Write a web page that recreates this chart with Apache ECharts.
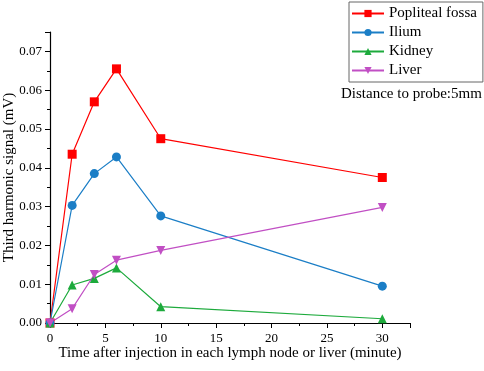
<!DOCTYPE html>
<html>
<head>
<meta charset="utf-8">
<script src="https://cdn.jsdelivr.net/npm/echarts@6/dist/echarts.min.js"></script>
<style>
  html, body { margin: 0; padding: 0; background: #fff; }
  #chart { width: 484px; height: 371px; }
</style>
</head>
<body>
<div id="chart"></div>
<script>
const times = [0, 2, 4, 6, 10, 30];
const popliteal = [0, 0.0435, 0.057, 0.0655, 0.0475, 0.0375];
const ilium = [0, 0.0303, 0.0385, 0.0428, 0.0276, 0.0095];
const kidney = [0, 0.0098, 0.0115, 0.0142, 0.0042, 0.0011];
const liver = [0, 0.0037, 0.0125, 0.0162, 0.0187, 0.0298];

const font = "Liberation Serif";

function pairs(values) {
  return times.map((t, i) => [t, values[i]]);
}

function makeSeries(name, values, color, symbol, rotate) {
  return {
    name: name,
    type: "line",
    data: pairs(values),
    symbol: symbol,
    symbolSize: 9,
    symbolRotate: rotate || 0,
    lineStyle: { color: color, width: 1.2 },
    itemStyle: { color: color },
  };
}

const chart = echarts.init(document.getElementById("chart"));
chart.setOption({
  animation: false,
  textStyle: { fontFamily: font },
  grid: { left: 50, right: 74, top: 32, bottom: 48, containLabel: false, outerBoundsMode: "none" },
  legend: {
    orient: "vertical",
    left: 349,
    top: 2,
    padding: [4, 6, 4, 2],
    itemGap: 4,
    itemWidth: 32,
    itemHeight: 9,
    borderColor: "#666",
    borderWidth: 1,
    textStyle: { fontFamily: font, fontSize: 15, color: "#000" },
    data: ["Popliteal fossa", "Ilium", "Kidney", "Liver"],
  },
  graphic: [
    {
      type: "text",
      left: 341,
      top: 87,
      style: { text: "Distance to probe:5mm", font: "15px " + font, fill: "#000" },
    },
  ],
  xAxis: {
    type: "value",
    min: 0,
    max: 32.5,
    interval: 5,
    name: "Time after injection in each lymph node or liver (minute)",
    nameLocation: "middle",
    nameGap: 23,
    nameMoveOverlap: false,
    nameTextStyle: { fontFamily: font, fontSize: 15, color: "#000" },
    axisLine: { lineStyle: { color: "#000", width: 1.2 } },
    axisTick: { lineStyle: { color: "#000" }, length: 5 },
    minorTick: { show: true, splitNumber: 2, length: 3, lineStyle: { color: "#000" } },
    axisLabel: {
      color: "#000",
      fontSize: 13,
      fontFamily: font,
      margin: 9,
      formatter: (v) => (v > 30 ? "" : v),
    },
    splitLine: { show: false },
  },
  yAxis: {
    type: "value",
    min: 0,
    max: 0.075,
    interval: 0.01,
    name: "Third harmonic signal (mV)",
    nameLocation: "middle",
    nameGap: 33,
    nameMoveOverlap: false,
    nameTextStyle: { fontFamily: font, fontSize: 15, color: "#000" },
    axisLine: { show: true, lineStyle: { color: "#000", width: 1.2 } },
    axisTick: { show: true, lineStyle: { color: "#000" }, length: 5 },
    minorTick: { show: true, splitNumber: 2, length: 3, lineStyle: { color: "#000" } },
    axisLabel: {
      color: "#000",
      fontSize: 13,
      fontFamily: font,
      margin: 8,
      formatter: (v) => (v > 0.0705 ? "" : v.toFixed(2)),
    },
    splitLine: { show: false },
  },
  series: [
    makeSeries("Popliteal fossa", popliteal, "#ff0000", "rect"),
    makeSeries("Ilium", ilium, "#1b7ec6", "circle"),
    makeSeries("Kidney", kidney, "#1daa3c", "triangle"),
    makeSeries("Liver", liver, "#c14fc4", "triangle", 180),
  ],
});
</script>
</body>
</html>
